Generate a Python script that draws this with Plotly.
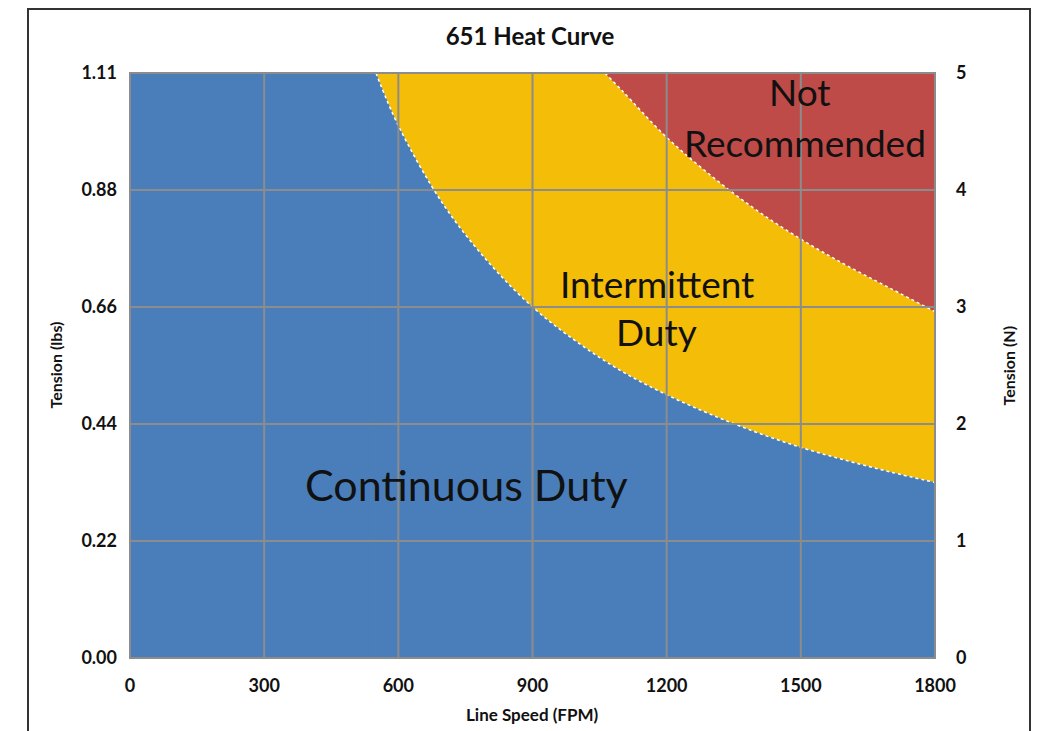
import plotly.graph_objects as go

# Data (line speed in FPM, tension in N)
cont_speed = [550, 600, 700, 800, 900, 1000, 1100, 1200, 1300, 1400, 1500, 1600, 1700, 1800]
cont_tension = [5.0, 4.55, 3.88, 3.39, 3.0, 2.7, 2.45, 2.25, 2.08, 1.93, 1.8, 1.69, 1.59, 1.5]
inter_speed = [1062, 1100, 1200, 1300, 1400, 1500, 1600, 1700, 1800]
inter_tension = [5.0, 4.85, 4.45, 4.12, 3.83, 3.58, 3.36, 3.16, 2.96]
top_speed = [1062, 1800]
top_tension = [5.0, 5.0]

x_ticks = [0, 300, 600, 900, 1200, 1500, 1800]
n_ticks = [0, 1, 2, 3, 4, 5]
lbs_labels = ["0.00", "0.22", "0.44", "0.66", "0.88", "1.11"]

BLUE = "#4A7EBB"
YELLOW = "#F4BD08"
RED = "#BE4B48"
GRID = "#8C8C8C"
FONT = "Lato"
INK = "#111111"

fig = go.Figure()

# continuous duty region: left block up to the curve start, then below the curve
fig.add_trace(go.Scatter(x=[0, cont_speed[0], cont_speed[0], 0], y=[0, 0, 5, 5], mode="lines",
                         line=dict(color=BLUE, width=0.5), fill="toself", fillcolor=BLUE,
                         hoverinfo="skip", showlegend=False))
fig.add_trace(go.Scatter(x=cont_speed, y=cont_tension, mode="lines",
                         line=dict(color=BLUE, width=0.5, shape="spline"),
                         fill="tozeroy", fillcolor=BLUE, hoverinfo="skip", showlegend=False))
# not recommended region (between top edge and second curve)
fig.add_trace(go.Scatter(x=top_speed, y=top_tension, mode="lines", line=dict(color=RED, width=0),
                         hoverinfo="skip", showlegend=False))
fig.add_trace(go.Scatter(x=inter_speed, y=inter_tension, mode="lines",
                         line=dict(color=RED, width=0.5, shape="spline"), fill="tonexty", fillcolor=RED,
                         hoverinfo="skip", showlegend=False))
# dotted white boundary lines
for xs, ys in ((cont_speed, cont_tension), (inter_speed, inter_tension)):
    fig.add_trace(go.Scatter(x=xs, y=ys, mode="lines",
                             line=dict(color="white", width=1.5, dash="dot", shape="spline"),
                             hoverinfo="skip", showlegend=False))
# invisible trace so the right-hand axis is drawn
fig.add_trace(go.Scatter(x=[0], y=[0], mode="markers", marker=dict(opacity=0), yaxis="y2",
                         hoverinfo="skip", showlegend=False))

shapes = []
for xv in x_ticks[1:-1]:
    shapes.append(dict(type="line", xref="x", yref="paper", x0=xv, x1=xv, y0=0, y1=1,
                       line=dict(color=GRID, width=2), layer="above"))
for yv in n_ticks[1:-1]:
    shapes.append(dict(type="line", xref="paper", yref="y", x0=0, x1=1, y0=yv, y1=yv,
                       line=dict(color=GRID, width=2), layer="above"))
shapes.append(dict(type="rect", xref="paper", yref="paper", x0=0, x1=1, y0=0, y1=1,
                   line=dict(color=GRID, width=2), layer="above"))
# outer chart frame
shapes.append(dict(type="rect", xref="paper", yref="paper",
                   x0=(20 - 122) / 805, x1=(1022 - 122) / 805, y0=-120 / 585, y1=649 / 585,
                   line=dict(color="#333333", width=2), layer="above"))

tickfont = dict(family=FONT, size=18, color=INK, weight="bold")

annots = [
    ("Not", 1498, 4.84, 37),
    ("Recommended", 1509, 4.41, 37),
    ("Intermittent", 1178, 3.205, 37),
    ("Duty", 1178, 2.79, 37),
    ("Continuous Duty", 753, 1.48, 43),
]
annotations = []
for text, xv, yv, s in annots:
    annotations.append(dict(text=text, x=xv, y=yv, xref="x", yref="y", showarrow=False,
                            font=dict(family=FONT, size=s, color=INK), xanchor="center", yanchor="middle"))
annotations.append(dict(text="<b>Tension (lbs)</b>", x=-75 / 805, y=0.5, xref="paper", yref="paper",
                        showarrow=False, textangle=-90, xanchor="center", yanchor="middle",
                        font=dict(family=FONT, size=16, color=INK)))
annotations.append(dict(text="<b>Tension (N)</b>", x=878 / 805, y=0.5, xref="paper", yref="paper",
                        showarrow=False, textangle=-90, xanchor="center", yanchor="middle",
                        font=dict(family=FONT, size=16, color=INK)))
annotations.append(dict(text="<b>Line Speed (FPM)</b>", x=(532 - 130) / 805, y=-56 / 585, xref="paper",
                        yref="paper", showarrow=False, xanchor="center", yanchor="middle",
                        font=dict(family=FONT, size=17, color=INK)))

fig.update_layout(
    width=1039, height=731,
    margin=dict(l=122, r=112, t=65, b=81),
    paper_bgcolor="white", plot_bgcolor=YELLOW,
    title=dict(text="<b>651 Heat Curve</b>", x=522 / 1039, xanchor="center", y=1 - 29 / 731, yanchor="middle",
               font=dict(family=FONT, size=24, color=INK)),
    xaxis=dict(range=[0, 1800], tickvals=x_ticks, showgrid=False, zeroline=False, tickfont=tickfont,
               ticks="", ticklabelstandoff=15),
    yaxis=dict(range=[0, 5], tickvals=n_ticks, ticktext=lbs_labels, showgrid=False, zeroline=False,
               tickfont=tickfont, ticks="", ticklabelstandoff=12),
    yaxis2=dict(range=[0, 5], tickvals=n_ticks, overlaying="y", side="right", showgrid=False, zeroline=False,
                tickfont=tickfont, ticks="", ticklabelstandoff=20),
    shapes=shapes, annotations=annotations,
    showlegend=False,
)

fig.write_html("out.html")
